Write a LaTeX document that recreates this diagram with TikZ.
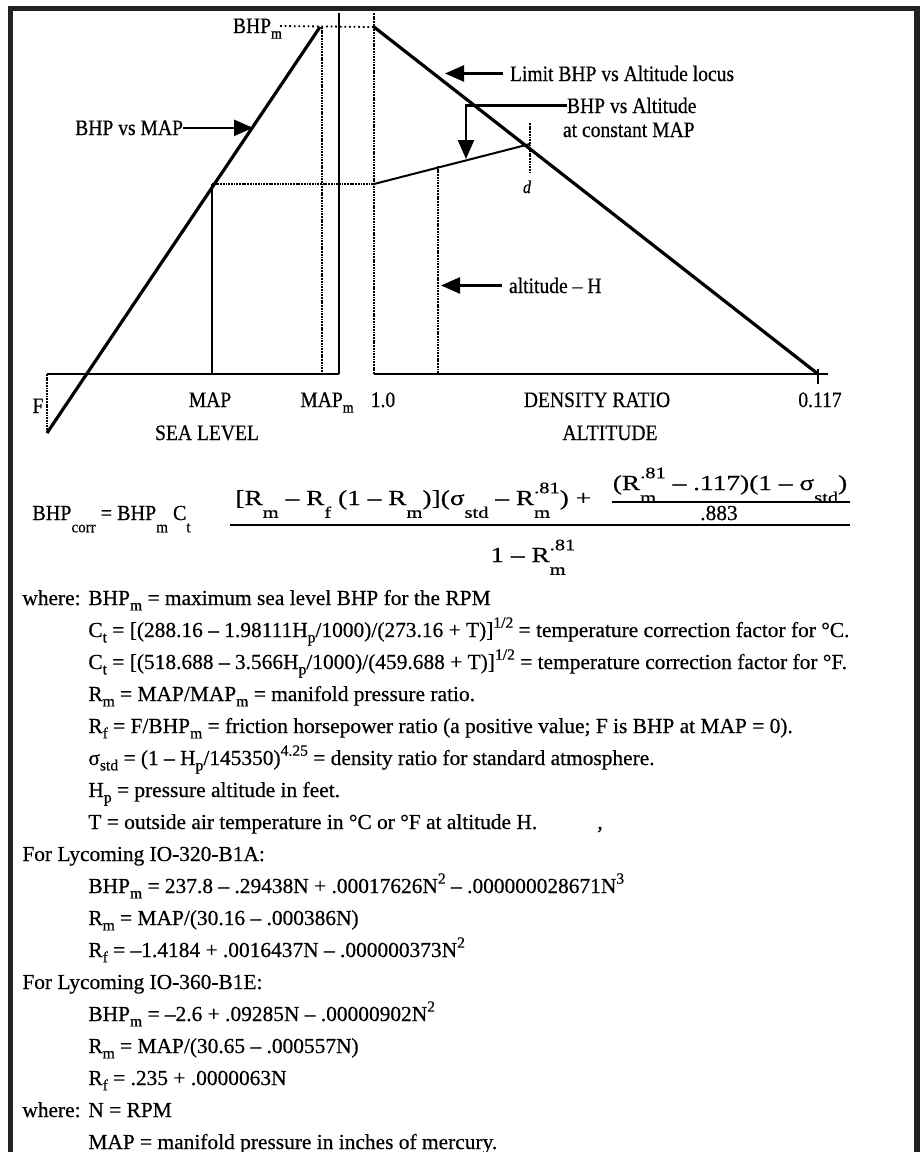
\documentclass[tikz,border=0pt]{standalone}
\usepackage{fontspec}
\setmainfont{Liberation Serif}[FakeBold=0.5]
\newfontfamily\lblfont{Liberation Serif}[FakeStretch=0.89,FakeBold=0.5]
\newfontfamily\frmleft{Liberation Serif}[FakeStretch=0.94,FakeBold=0.5]
\newfontfamily\frmwide{Liberation Serif}[FakeStretch=1.28,FakeBold=0.5]
\usetikzlibrary{arrows.meta}
\definecolor{framegray}{HTML}{222222}
\newcommand\sbx[1]{\raisebox{-0.55ex}{\fontsize{7.8}{8}\selectfont #1}}
\newcommand\spx[1]{\raisebox{0.95ex}{\fontsize{7.8}{8}\selectfont #1}}
\newcommand\fsb[1]{\raisebox{-1.3ex}{\fontsize{8}{8}\selectfont #1}}
\newcommand\fsp[1]{\raisebox{1.2ex}{\fontsize{8}{8}\selectfont #1}}
\newcommand\lsb[1]{\raisebox{-1.25ex}{\fontsize{8}{8}\selectfont #1}}
\begin{document}
\begin{tikzpicture}[x=0.5pt,y=-0.5pt,
  lbl/.style={font=\lblfont\fontsize{11}{12}\selectfont, inner sep=0pt, outer sep=0pt},
  txt/.style={font=\fontsize{10.7}{12}\selectfont, inner sep=0pt, anchor=base west},
  frm/.style={font=\frmwide\fontsize{10.7}{12}\selectfont, inner sep=0pt, anchor=base west},
  frameline/.style={line width=2.6pt, draw=framegray},
  curveline/.style={line width=1.6pt},
  axisline/.style={line width=1.3pt},
  solidv/.style={line width=1pt},
  hatch/.style={line width=1.1pt, dash pattern=on 0.9pt off 0.45pt},
  sparse/.style={line width=0.9pt, dash pattern=on 0.9pt off 1.4pt},
  pointer/.style={line width=1.2pt, -{Triangle[length=9.5pt,width=8pt]}},
  fbar/.style={line width=1.1pt}
]
\useasboundingbox (0,0) rectangle (921,1152);
\fill[white] (0,0) rectangle (921,1152);
% frame
\draw[frameline] (10.8,1160) -- (10.8,8.3) -- (917,8.3) -- (917,1160);

% coordinates
\coordinate (Fb) at (47,433);
\coordinate (O1) at (47,374);
\coordinate (peak) at (320,27);
\coordinate (E1) at (339,374);
\coordinate (T1) at (339,13);
\coordinate (O2) at (374,374);
\coordinate (T2) at (374,13);
\coordinate (top2) at (374,27);
\coordinate (endR) at (818,374);
\coordinate (E2) at (828,374);
\coordinate (mapT) at (212,184);
\coordinate (mapB) at (212,374);
\coordinate (mapmT) at (322,27);
\coordinate (mapmB) at (322,374);
\coordinate (kneeL) at (374,184);
\coordinate (dpt) at (530,144);
\coordinate (dT) at (530,123);
\coordinate (dB) at (530,173);
\coordinate (hT) at (438,166);
\coordinate (hB) at (438,374);
\coordinate (tickT) at (818,369);
\coordinate (tickB) at (818,384);
\coordinate (bhpmL) at (280,26);
\coordinate (aMAP) at (253,125);
\coordinate (aLim) at (445,73);
\coordinate (aAlt) at (466,159);
\coordinate (aH) at (441,285);

% chart lines
\draw[hatch] (O1) -- (Fb);
\draw[curveline] (Fb) -- (peak);
\draw[axisline] (O1) -- (E1);
\draw[axisline] (O2) -- (E2);
\draw[solidv] (T1) -- (E1);
\draw[hatch] (T2) -- (O2);
\draw[hatch] (mapmT) -- (mapmB);
\draw[axisline] (mapT) -- (mapB);
\draw[hatch] (mapT) -- (kneeL);
\draw[line width=1pt] (kneeL) -- (dpt);
\draw[curveline] (top2) -- (endR);
\draw[sparse] (bhpmL) -- (top2);
\draw[hatch] (dT) -- (dB);
\draw[hatch] (hT) -- (hB);
\draw[solidv] (tickT) -- (tickB);

% chart labels
\node[lbl, anchor=base west] (lbhpm) at (233,33) {BHP\sbx{m}};
\node[lbl, anchor=base east] (lbm) at (183,135) {BHP vs MAP};
\draw[pointer] (lbm.east) -- (lbm.east -| aMAP);
\node[lbl, anchor=base west] (llim) at (510,81) {Limit BHP vs Altitude locus};
\draw[pointer] ([xshift=-3.5pt]llim.west) -- (llim.west -| aLim);
\node[lbl, anchor=base west] (lalt) at (567,113) {BHP vs Altitude};
\node[lbl, anchor=base west] (lalt2) at (563,137) {at constant MAP};
\draw[pointer] (lalt.west) -| (aAlt);
\node[lbl, anchor=base west] (lh) at (509,293) {altitude – H};
\draw[pointer] ([xshift=-3.5pt]lh.west) -- (lh.west -| aH);
\node[lbl, anchor=base, font=\lblfont\itshape\fontsize{9}{10}\selectfont] (ld) at (527,193) {d};

\node[lbl, anchor=base] (lF) at (38,413) {F};
\node[lbl, anchor=base] (lmap) at (210,407) {MAP};
\node[lbl, anchor=base] (lmapm) at (327,407) {MAP\sbx{m}};
\node[lbl, anchor=base] (lone) at (383,407) {1.0};
\node[lbl, anchor=base] (ldens) at (597,407) {DENSITY RATIO};
\node[lbl, anchor=base] (lend) at (820,407) {0.117};
\node[lbl, anchor=base] (lsea) at (207,440) {SEA LEVEL};
\node[lbl, anchor=base] (lalti) at (610,440) {ALTITUDE};

% formula
\coordinate (fbarL) at (230,525);
\coordinate (fbarR) at (850,525);
\coordinate (ibarL) at (612,502);
\coordinate (ibarR) at (850,502);
\node[frm, font=\frmleft\fontsize{10.7}{12}\selectfont] (fleft) at (32,520) {BHP\lsb{corr} = BHP\lsb{m} C\lsb{t}};
\draw[fbar] (fbarL) -- (fbarR);
\node[frm] (fnum) at (235,505) {[R\fsb{m} – R\fsb{f} (1 – R\fsb{m})](σ\fsb{std} – R\rlap{\fsb{m}}\fsp{.81}) +};
\node[frm, anchor=base] (finn) at (730,490) {(R\rlap{\fsb{m}}\fsp{.81} – .117)(1 – σ\fsb{std})};
\draw[fbar] (ibarL) -- (ibarR);
\node[txt, anchor=base] (f883) at (719,520) {.883};
\node[frm] (fden) at (490,562) {1 – R\rlap{\fsb{m}}\fsp{.81}};

% text lines
\node[txt] (w1) at (22,605) {where:};
\node[txt] (t1) at (88,605) {BHP\sbx{m} = maximum sea level BHP for the RPM};
\node[txt] (t2) at (88,637) {C\sbx{t} = [(288.16 – 1.98111H\sbx{p}/1000)/(273.16 + T)]\spx{1/2} = temperature correction factor for °C.};
\node[txt] (t3) at (88,669) {C\sbx{t} = [(518.688 – 3.566H\sbx{p}/1000)/(459.688 + T)]\spx{1/2} = temperature correction factor for °F.};
\node[txt] (t4) at (88,701) {R\sbx{m} = MAP/MAP\sbx{m} = manifold pressure ratio.};
\node[txt] (t5) at (88,733) {R\sbx{f} = F/BHP\sbx{m} = friction horsepower ratio (a positive value; F is BHP at MAP = 0).};
\node[txt] (t6) at (88,765) {σ\sbx{std} = (1 – H\sbx{p}/145350)\spx{4.25} = density ratio for standard atmosphere.};
\node[txt] (t7) at (88,797) {H\sbx{p} = pressure altitude in feet.};
\node[txt] (t8) at (88,829) {T = outside air temperature in °C or °F at altitude H.};
\node[txt] (t8c) at (597,829) {,};
\node[txt] (t9) at (22,861) {For Lycoming IO-320-B1A:};
\node[txt] (t10) at (88,893) {BHP\sbx{m} = 237.8 – .29438N + .00017626N\spx{2} – .000000028671N\spx{3}};
\node[txt] (t11) at (88,925) {R\sbx{m} = MAP/(30.16 – .000386N)};
\node[txt] (t12) at (88,957) {R\sbx{f} = –1.4184 + .0016437N – .000000373N\spx{2}};
\node[txt] (t13) at (22,989) {For Lycoming IO-360-B1E:};
\node[txt] (t14) at (88,1021) {BHP\sbx{m} = –2.6 + .09285N – .00000902N\spx{2}};
\node[txt] (t15) at (88,1053) {R\sbx{m} = MAP/(30.65 – .000557N)};
\node[txt] (t16) at (88,1085) {R\sbx{f} = .235 + .0000063N};
\node[txt] (w2) at (22,1117) {where:};
\node[txt] (t17) at (88,1117) {N = RPM};
\node[txt] (t18) at (88,1149) {MAP = manifold pressure in inches of mercury.};
\end{tikzpicture}
\end{document}
